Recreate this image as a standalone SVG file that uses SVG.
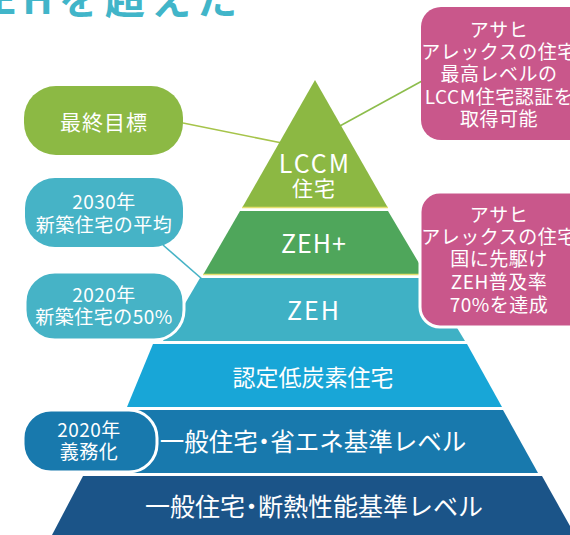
<svg xmlns="http://www.w3.org/2000/svg" width="570" height="535" viewBox="0 0 570 535">
<defs>
<style>
text{font-family:"Noto Sans CJK JP","Noto Sans",sans-serif;fill:#fff;text-anchor:middle}
.lay{font-size:24px}
.bub{font-size:19px;letter-spacing:0.5px}
.con{fill:none;stroke-width:1.6}
.sep{stroke:#e3df6e;stroke-width:1.4}
.wb{stroke:#fff;stroke-width:3}
</style>
</defs>
<rect width="570" height="535" fill="#fff"/>
<text x="-8" y="14" style="font-size:40px;text-anchor:start;letter-spacing:6px;fill:#41b5c9;font-weight:bold">EHを超えた</text>

<g id="connectors">
<line class="con" x1="183" y1="123" x2="282" y2="143" stroke="#a6c44a"/>
<line class="con" x1="338" y1="127" x2="422" y2="81" stroke="#8dbd4c"/>
<line class="con" x1="163" y1="245" x2="202" y2="279" stroke="#46b3c6"/>
</g>

<g id="layer-lccm">
<polygon points="315,80 242,208 388,208" fill="#8cb843"/>
<line class="sep" x1="242" y1="207.5" x2="388" y2="207.5"/>
<text x="315" y="173" style="font-size:25px;letter-spacing:2px">LCCM</text>
<text x="314" y="196" style="font-size:21px;letter-spacing:1px">住宅</text>
</g>
<g id="layer-zehplus">
<polygon points="240,211 388,211 426,275 203,275" fill="#4fa65b"/>
<line class="sep" x1="203" y1="274.5" x2="426" y2="274.5"/>
<text x="314" y="253" style="font-size:25px;letter-spacing:1px">ZEH+</text>
</g>
<g id="layer-zeh">
<polygon points="200,278 427,278 465,341 163,341" fill="#3fb1c5"/>
<text x="314" y="320" style="font-size:25px;letter-spacing:2px">ZEH</text>
</g>
<g id="layer-nintei">
<polygon points="153,344 467,344 502,407 127,407" fill="#18a6d7"/>
<text class="lay" x="313" y="386" style="font-size:23px">認定低炭素住宅</text>
</g>
<g id="layer-shoene">
<polygon points="125,410 503,410 538,473 95,473" fill="#1879ad"/>
<text class="lay" x="313" y="451" style="font-size:24.5px">一般住宅<tspan dx="-6">・</tspan><tspan dx="-6">省エネ基準レベル</tspan></text>
</g>
<g id="layer-dannetsu">
<polygon points="83,476 542,476 575,535 52,535" fill="#1b5488"/>
<text class="lay" x="314" y="516" style="font-size:25px">一般住宅<tspan dx="-6">・</tspan><tspan dx="-6">断熱性能基準レベル</tspan></text>
</g>

<g id="bubble-goal">
<rect x="24" y="86" width="159" height="69" rx="32" fill="#8cb944"/>
<text x="104" y="130" style="font-size:21px;letter-spacing:1px">最終目標</text>
</g>
<g id="bubble-2030">
<rect x="25" y="178" width="158" height="69" rx="30" fill="#46b3c6"/>
<text class="bub" x="104" y="209">2030年</text>
<text class="bub" x="104" y="232">新築住宅の平均</text>
</g>
<g id="bubble-2020">
<rect class="wb" x="25" y="272" width="159" height="68" rx="30" fill="#46b3c6"/>
<text class="bub" x="104" y="302">2020年</text>
<text class="bub" x="104" y="324">新築住宅の50%</text>
</g>
<g id="bubble-gimu">
<rect class="wb" x="23" y="410" width="134" height="62" rx="28" fill="#1879ad"/>
<text class="bub" x="89" y="437">2020年</text>
<text class="bub" x="89" y="459">義務化</text>
</g>
<g id="bubble-asahi-lccm">
<rect x="421" y="7" width="175" height="133" rx="20" fill="#c9578b"/>
<text class="bub" x="499" y="37">アサヒ</text>
<text class="bub" x="499" y="59">アレックスの住宅</text>
<text class="bub" x="499" y="81">最高レベルの</text>
<text class="bub" x="499" y="104">LCCM住宅認証を</text>
<text class="bub" x="499" y="126">取得可能</text>
</g>
<g id="bubble-asahi-zeh">
<rect class="wb" x="420" y="192" width="175" height="135" rx="20" fill="#c9578b"/>
<text class="bub" x="499" y="222">アサヒ</text>
<text class="bub" x="499" y="244">アレックスの住宅</text>
<text class="bub" x="499" y="266">国に先駆け</text>
<text class="bub" x="499" y="289">ZEH普及率</text>
<text class="bub" x="499" y="312">70%を達成</text>
</g>
</svg>
